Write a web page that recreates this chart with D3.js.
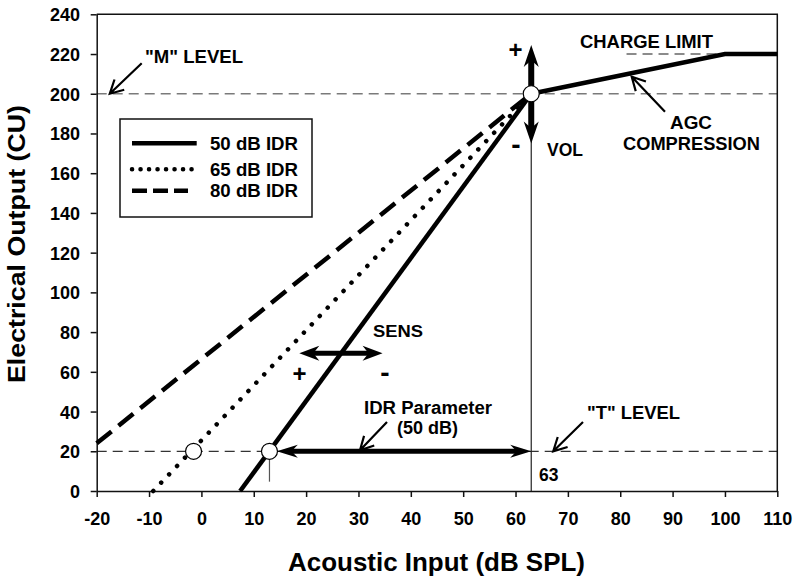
<!DOCTYPE html>
<html>
<head>
<meta charset="utf-8">
<script src="https://cdn.jsdelivr.net/npm/d3@7"></script>
<style>
  html, body { margin: 0; padding: 0; background: #fff; }
  svg { display: block; }
  text { font-family: "Liberation Sans", Arial, sans-serif; font-weight: bold; fill: #000; }
</style>
</head>
<body>
<svg id="chart" width="800" height="584"></svg>
<script>
// ---- data ----
const xTicks = [-20, -10, 0, 10, 20, 30, 40, 50, 60, 70, 80, 90, 100, 110];
const yTicks = [0, 20, 40, 60, 80, 100, 120, 140, 160, 180, 200, 220, 240];
const idr50 = [{x: 7.4, y: 0}, {x: 63, y: 200}];
const idr65 = [{x: -9.2, y: 0}, {x: 63, y: 200}];
const idr80 = [{x: -20, y: 24}, {x: 63, y: 200}];
const agc = [{x: 63, y: 200}, {x: 100, y: 220}, {x: 110, y: 220}];
const markers = [{x: -1.5, y: 20}, {x: 13, y: 20}, {x: 63, y: 200}];
const mLevel = 200, tLevel = 20, chargeLimit = 220, tInput = 63;
const legendLabels = ["50 dB IDR", "65 dB IDR", "80 dB IDR"];

// ---- scales ----
const svg = d3.select("#chart");
const x = d3.scaleLinear().domain([-20, 110]).range([96.7, 777.3]);
const y = d3.scaleLinear().domain([0, 240]).range([491, 14.3]);
const line = d3.line().x(d => x(d.x)).y(d => y(d.y));

function txt(px, py, s, size, anchor, len) {
  const t = svg.append("text").attr("x", px).attr("y", py)
    .attr("font-size", size).attr("text-anchor", anchor || "start").text(s);
  if (len) t.attr("textLength", len).attr("lengthAdjust", "spacingAndGlyphs");
  return t;
}

// ---- reference lines ----
svg.append("line").attr("x1", x(-20)).attr("x2", x(110)).attr("y1", y(mLevel)).attr("y2", y(mLevel))
  .attr("stroke", "#7a7a7a").attr("stroke-width", 1.5).attr("stroke-dasharray", "10,6");
svg.append("line").attr("x1", x(-20)).attr("x2", x(110)).attr("y1", y(tLevel)).attr("y2", y(tLevel))
  .attr("stroke", "#333").attr("stroke-width", 1.3).attr("stroke-dasharray", "10,6");
svg.append("line").attr("x1", x(81.2)).attr("x2", x(100)).attr("y1", y(chargeLimit)).attr("y2", y(chargeLimit))
  .attr("stroke", "#666").attr("stroke-width", 1.5).attr("stroke-dasharray", "10,6");
svg.append("line").attr("x1", x(tInput)).attr("x2", x(tInput)).attr("y1", y(200)).attr("y2", y(0))
  .attr("stroke", "#222").attr("stroke-width", 1.2);
svg.append("line").attr("x1", x(13)).attr("x2", x(13)).attr("y1", y(20)).attr("y2", y(4.7))
  .attr("stroke", "#555").attr("stroke-width", 1.2);

// ---- axes ----
const xAxis = svg.append("g").attr("transform", `translate(0,${y(0)})`)
  .call(d3.axisBottom(x).tickValues(xTicks).tickSize(6).tickSizeOuter(0).tickFormat(d => String(d)));
const yAxis = svg.append("g").attr("transform", `translate(${x(-20)},0)`)
  .call(d3.axisLeft(y).tickValues(yTicks).tickSize(6).tickSizeOuter(0).tickFormat(d => String(d)));
[xAxis, yAxis].forEach(g => {
  g.select(".domain").attr("stroke", "#111").attr("stroke-width", 1.5);
  g.selectAll(".tick line").attr("stroke", "#111").attr("stroke-width", 1.5);
  g.selectAll(".tick text").attr("font-size", 18).attr("font-family", "Liberation Sans, Arial, sans-serif")
    .attr("font-weight", "bold").attr("fill", "#000");
});
xAxis.selectAll(".tick text").attr("y", 0).attr("dy", null).attr("transform", "translate(0,34)");
yAxis.selectAll(".tick text").attr("x", -16.7).attr("dy", "0.36em");
// frame (top & right)
svg.append("path").attr("d", `M${x(-20)},${y(240)}H${x(110)}V${y(0)}`)
  .attr("fill", "none").attr("stroke", "#111").attr("stroke-width", 1.5);

// ---- series ----
svg.append("path").datum(idr80).attr("d", line).attr("fill", "none").attr("stroke", "#000")
  .attr("stroke-width", 4.5).attr("stroke-dasharray", "19,9");
svg.append("path").datum(idr65).attr("d", line).attr("fill", "none").attr("stroke", "#000")
  .attr("stroke-width", 4.5).attr("stroke-linecap", "round").attr("stroke-dasharray", "0.1,11.4");
svg.append("path").datum(idr50).attr("d", line).attr("fill", "none").attr("stroke", "#000")
  .attr("stroke-width", 4.5);
svg.append("path").datum(agc).attr("d", line).attr("fill", "none").attr("stroke", "#000")
  .attr("stroke-width", 4.5).attr("stroke-linejoin", "miter");

// ---- arrows ----
function openArrow(x1, y1, x2, y2) {
  const a = Math.atan2(y1 - y2, x1 - x2), L = 15, s = 28 * Math.PI / 180;
  const p = `M${x1},${y1}L${x2},${y2}M${x2 + L * Math.cos(a + s)},${y2 + L * Math.sin(a + s)}L${x2},${y2}L${x2 + L * Math.cos(a - s)},${y2 + L * Math.sin(a - s)}`;
  svg.append("path").attr("d", p).attr("fill", "none").attr("stroke", "#000").attr("stroke-width", 2.2);
}
function head(tx, ty, a, L, W) {
  const c = Math.cos(a), s = Math.sin(a);
  const bx = tx - L * c, by = ty - L * s;
  const nx = tx - L * 0.7 * c, ny = ty - L * 0.7 * s;
  return `M${tx},${ty}L${bx - W / 2 * s},${by + W / 2 * c}L${nx},${ny}L${bx + W / 2 * s},${by - W / 2 * c}Z`;
}
function doubleArrow(x1, y1, x2, y2, w, L, W) {
  const a = Math.atan2(y2 - y1, x2 - x1), c = Math.cos(a), s = Math.sin(a);
  svg.append("line").attr("x1", x1 + L * 0.6 * c).attr("y1", y1 + L * 0.6 * s)
    .attr("x2", x2 - L * 0.6 * c).attr("y2", y2 - L * 0.6 * s)
    .attr("stroke", "#000").attr("stroke-width", w);
  svg.append("path").attr("d", head(x2, y2, a, L, W) + head(x1, y1, a + Math.PI, L, W)).attr("fill", "#000");
}
doubleArrow(x(tInput), y(224.6), x(tInput), y(175), 6, 22, 15);
doubleArrow(x(18.7), y(69.3), x(34.6), y(69.3), 5, 20, 15);
doubleArrow(x(14.4), y(20), x(tInput), y(20), 5, 21, 13);

openArrow(141.7, 63.3, x(-17.5), y(200));
openArrow(583, 422, x(67.2), y(20));
openArrow(665, 111.7, 631.7, 76.7);
openArrow(387, 422, 360, y(20) - 1);

// ---- markers ----
svg.selectAll("circle.m").data(markers).enter().append("circle")
  .attr("cx", d => x(d.x)).attr("cy", d => y(d.y)).attr("r", 8)
  .attr("fill", "#fff").attr("stroke", "#000").attr("stroke-width", 1.2);

// ---- annotations ----
txt(145, 63, '"M" LEVEL', 17.5, "start", 98);
txt(580, 48, "CHARGE LIMIT", 18, "start", 133);
txt(670, 129, "AGC", 18, "start", 42);
txt(623, 149.5, "COMPRESSION", 18, "start", 137);
txt(547, 156, "VOL", 17.5, "start", 36);
txt(515.5, 57.5, "+", 24, "middle");
txt(516, 153.5, "-", 28, "middle");
txt(373, 337, "SENS", 17, "start", 50);
txt(299.5, 382, "+", 24, "middle");
txt(385, 382, "-", 28, "middle");
txt(364, 414, "IDR Parameter", 17.5, "start", 128);
txt(397, 434, "(50 dB)", 17.5, "start", 61);
txt(587, 419, '"T" LEVEL', 17.5, "start", 93);
txt(539, 481, "63", 17.5, "start");

// ---- legend ----
svg.append("rect").attr("x", 120).attr("y", 119).attr("width", 192).attr("height", 98)
  .attr("fill", "#fff").attr("stroke", "#111").attr("stroke-width", 1.5);
const legY = [143.3, 169.3, 190.7];
const legStyles = [
  {dash: null, cap: "butt", x2: 196.7},
  {dash: "0.1,8.4", cap: "round", x2: 193},
  {dash: "15,6", cap: "butt", x2: 188}
];
legendLabels.forEach((lab, i) => {
  const l = svg.append("line").attr("x1", 132).attr("x2", legStyles[i].x2).attr("y1", legY[i]).attr("y2", legY[i])
    .attr("stroke", "#000").attr("stroke-width", 4.5).attr("stroke-linecap", legStyles[i].cap);
  if (legStyles[i].dash) l.attr("stroke-dasharray", legStyles[i].dash);
  txt(210, legY[i] + 6.5, lab, 17.5, "start", 88);
});

// ---- axis titles ----
txt(288, 571, "Acoustic Input (dB SPL)", 25, "start", 297);
svg.append("text").attr("transform", "translate(25,383) rotate(-90)")
  .attr("font-size", 23).attr("textLength", 278).attr("lengthAdjust", "spacingAndGlyphs")
  .text("Electrical Output (CU)");
</script>
</body>
</html>
